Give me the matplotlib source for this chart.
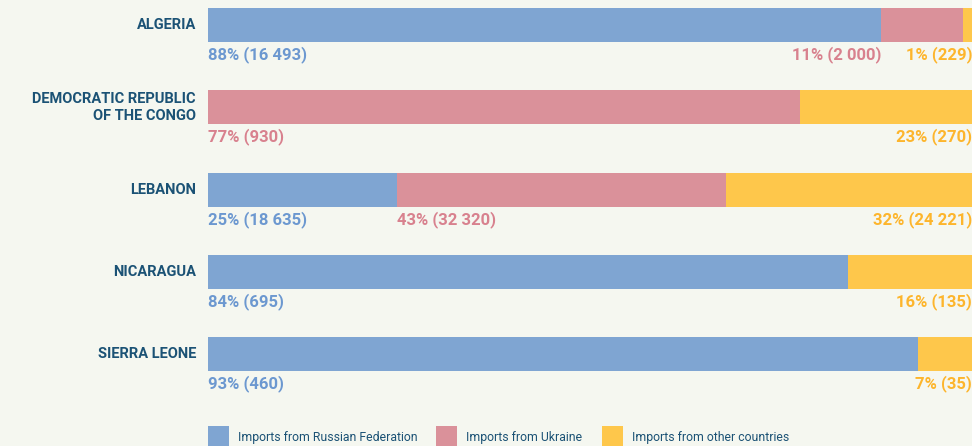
import matplotlib.pyplot as plt
from matplotlib.patches import Rectangle

# data
countries = ['ALGERIA', 'DEMOCRATIC REPUBLIC\nOF THE CONGO', 'LEBANON', 'NICARAGUA', 'SIERRA LEONE']
russia = [16493, 0, 18635, 695, 460]
ukraine = [2000, 930, 32320, 0, 0]
other = [229, 270, 24221, 135, 35]
pct_russia = ['88%', '', '25%', '84%', '93%']
pct_ukraine = ['11%', '77%', '43%', '', '']
pct_other = ['1%', '23%', '32%', '16%', '7%']
series_names = ['Imports from Russian Federation', 'Imports from Ukraine', 'Imports from other countries']

bg = '#f5f7f0'
bar_cols = ['#7fa5d2', '#da919a', '#fec74b']
txt_cols = ['#6c98d0', '#d8818e', '#fdb52c']
dark = '#1b5275'
font = 'Roboto'

fig = plt.figure(figsize=(9.72, 4.46), dpi=100)
fig.patch.set_facecolor(bg)
ax = fig.add_axes([208 / 972, 0, 1 - 208 / 972, 1])
ax.set_facecolor(bg)

step = 82.3
ax.set_xlim(0, 1)
ax.set_ylim((446 - 25) / step, -25 / step)
ax.axis('off')

h = 34 / step
lab_y = h / 2 + 4 / step

def fmt(v):
    return f'{v:,}'.replace(',', ' ')

for i, c in enumerate(countries):
    vals = [russia[i], ukraine[i], other[i]]
    pcts = [pct_russia[i], pct_ukraine[i], pct_other[i]]
    total = sum(vals)
    left = 0
    nonzero = [k for k in range(3) if vals[k] > 0]
    for k in range(3):
        w = vals[k] / total
        if w == 0:
            continue
        ax.barh(i, w, left=left, height=h, color=bar_cols[k], linewidth=0)
        label = f'{pcts[k]} ({fmt(vals[k])})'
        if k == nonzero[-1]:
            x, ha = 1.0, 'right'
        elif w < 0.15:
            x, ha = left, 'right'
        else:
            x, ha = left, 'left'
        ax.text(x, i + lab_y, label, ha=ha, va='top', color=txt_cols[k],
                fontsize=12, fontweight='bold', family=font)
        left += w
    ax.text(-12 / 764, i, c, ha='right', va='center', color=dark, fontsize=10.5,
            fontweight='bold', family=font, linespacing=1.3)

# legend
leg_x = [208, 436, 602]
for k, name in enumerate(series_names):
    x0 = leg_x[k] / 972
    fig.add_artist(Rectangle((x0, 0), 21 / 972, 20 / 446, transform=fig.transFigure,
                             color=bar_cols[k], linewidth=0))
    fig.text(x0 + 30 / 972, 9 / 446, name, ha='left', va='center', color=dark,
             fontsize=8.8, family=font)

fig.savefig('out.png', dpi=100, facecolor=bg)
